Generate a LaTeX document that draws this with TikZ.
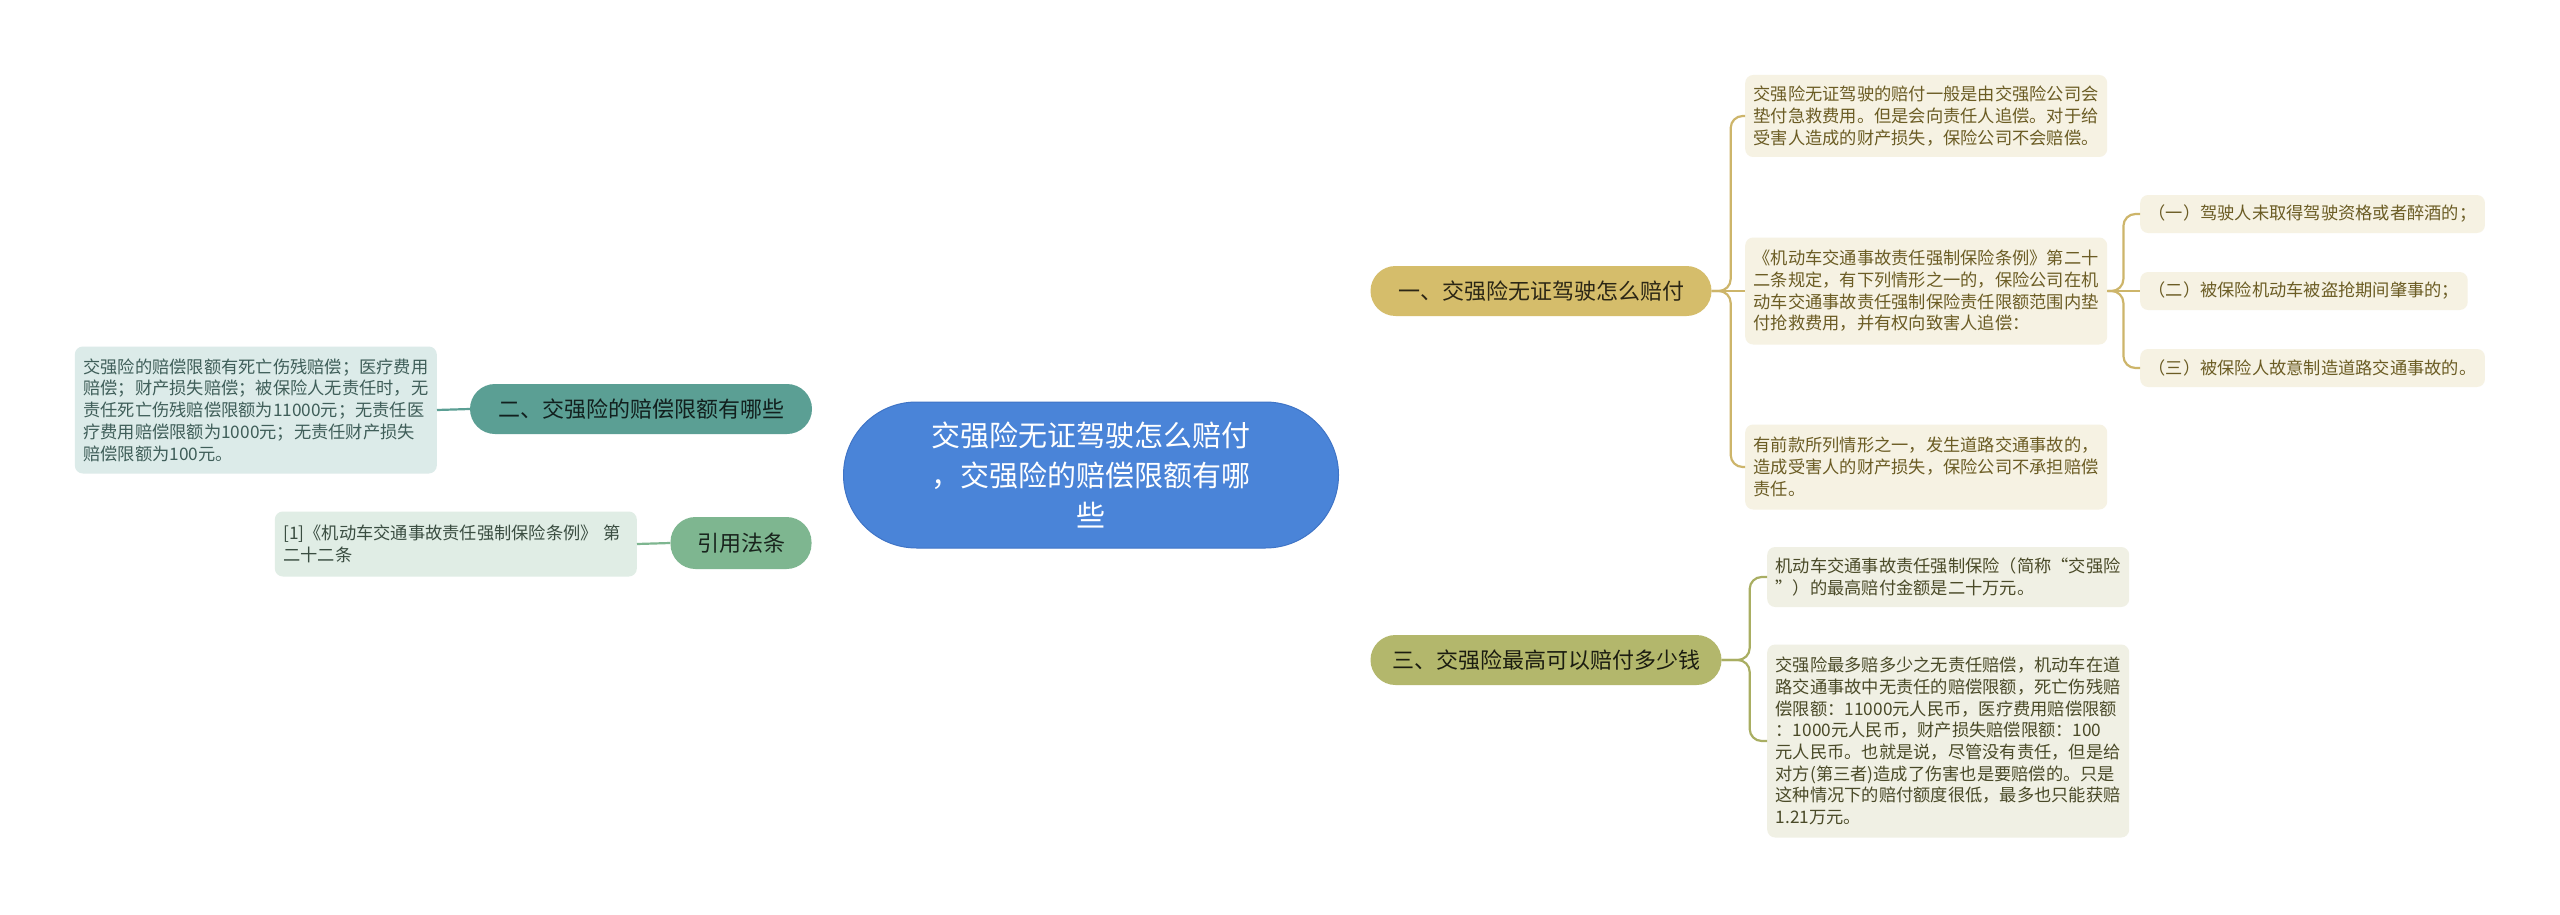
\documentclass[tikz,border=0pt]{standalone}
\usepackage{fontspec}
\setmainfont{Noto Sans CJK SC}
\usepackage{tikz}
\usetikzlibrary{backgrounds}

\definecolor{rootfill}{HTML}{4A84D8}
\definecolor{rootdraw}{HTML}{3F74C6}
\definecolor{goldfill}{HTML}{D5BD6B}
\definecolor{goldline}{HTML}{CDB56A}
\definecolor{goldleaf}{HTML}{F6F2E3}
\definecolor{goldtext}{HTML}{6B5C24}
\definecolor{olivefill}{HTML}{B3B76C}
\definecolor{oliveline}{HTML}{A9AE62}
\definecolor{oliveleaf}{HTML}{F0F0E4}
\definecolor{olivetext}{HTML}{4A4A28}
\definecolor{tealfill}{HTML}{5B9F94}
\definecolor{tealleaf}{HTML}{DCEBE9}
\definecolor{tealtext}{HTML}{3F5E59}
\definecolor{greenfill}{HTML}{7EB690}
\definecolor{greenleaf}{HTML}{E0EDE5}
\definecolor{greentext}{HTML}{3A4D41}

\newcommand{\leaffont}{\fontsize{17.25}{21.7}\selectfont}
\newcommand{\branchfont}{\fontsize{22}{26}\selectfont}
\newcommand{\rootfont}{\fontsize{29}{40}\selectfont}

\begin{document}
\begin{tikzpicture}[x=1pt, y=-1pt,
  rootbox/.style={rectangle, fill=rootfill, draw=rootdraw, line width=1pt, rounded corners=73pt,
    minimum width=495pt, minimum height=146pt, text=white, align=center, font=\rootfont},
  branchbox/.style={rectangle, rounded corners=25pt, minimum height=50pt, inner sep=0pt, font=\branchfont},
  leafbox/.style={rectangle, rounded corners=8pt, text width=345pt, inner xsep=8.5pt, inner ysep=0pt,
    align=left, font=\leaffont},
  subbox/.style={rectangle, rounded corners=8pt, minimum height=38pt, inner xsep=8.5pt, inner ysep=0pt,
    font=\leaffont},
  link/.style={line width=2.2pt, rounded corners=12pt}
]
\fill[white] (0,0) rectangle (2560,915);
\useasboundingbox (0,0) rectangle (2560,915);

% centre
\node[rootbox] (root) at (1091,475) {交强险无证驾驶怎么赔付\\，交强险的赔偿限额有哪\\些};

% branches
\node[branchbox, fill=goldfill, text=black!80!goldfill, minimum width=341pt] (noLicence) at (1541,291) {一、交强险无证驾驶怎么赔付};
\node[branchbox, fill=olivefill, text=black!85!olivefill, minimum width=351pt] (maxPay) at (1546,660) {三、交强险最高可以赔付多少钱};
\node[branchbox, fill=tealfill, text=black!80!tealfill, minimum width=342pt] (limits) at (641,409) {二、交强险的赔偿限额有哪些};
\node[branchbox, fill=greenfill, text=black!80!greenfill, minimum width=141pt, minimum height=52pt] (cite) at (741,543) {引用法条};

% leaves of branch one
\node[leafbox, fill=goldleaf, text=goldtext, minimum height=82pt, anchor=west] (advance) at (1745,116) {交强险无证驾驶的赔付一般是由交强险公司会\\
垫付急救费用。但是会向责任人追偿。对于给\\
受害人造成的财产损失，保险公司不会赔偿。};
\node[leafbox, fill=goldleaf, text=goldtext, minimum height=107pt, anchor=west] (rule) at (1745,291) {《机动车交通事故责任强制保险条例》第二十\\
二条规定，有下列情形之一的，保险公司在机\\
动车交通事故责任强制保险责任限额范围内垫\\
付抢救费用，并有权向致害人追偿：};
\node[leafbox, fill=goldleaf, text=goldtext, minimum height=85pt, anchor=west] (property) at (1745,467) {有前款所列情形之一，发生道路交通事故的，\\
造成受害人的财产损失，保险公司不承担赔偿\\
责任。};

\node[subbox, fill=goldleaf, text=goldtext, anchor=west] (caseOne) at (2140,214) {（一）驾驶人未取得驾驶资格或者醉酒的；};
\node[subbox, fill=goldleaf, text=goldtext, anchor=west] (caseTwo) at (2140,291) {（二）被保险机动车被盗抢期间肇事的；};
\node[subbox, fill=goldleaf, text=goldtext, anchor=west] (caseThree) at (2140,368) {（三）被保险人故意制造道路交通事故的。};

% leaves of branch three
\node[leafbox, fill=oliveleaf, text=olivetext, minimum height=60pt, anchor=west] (maxSum) at (1767,577) {机动车交通事故责任强制保险（简称“交强险\\
”）的最高赔付金额是二十万元。};
\node[leafbox, fill=oliveleaf, text=olivetext, minimum height=193pt, anchor=west] (noFault) at (1767,741) {交强险最多赔多少之无责任赔偿，机动车在道\\
路交通事故中无责任的赔偿限额，死亡伤残赔\\
偿限额：11000元人民币，医疗费用赔偿限额\\
：1000元人民币，财产损失赔偿限额：100\\
元人民币。也就是说，尽管没有责任，但是给\\
对方(第三者)造成了伤害也是要赔偿的。只是\\
这种情况下的赔付额度很低，最多也只能获赔\\
1.21万元。};

% left leaves
\node[leafbox, fill=tealleaf, text=tealtext, minimum height=127pt, anchor=east] (limitText) at (437,410) {交强险的赔偿限额有死亡伤残赔偿；医疗费用\\
赔偿；财产损失赔偿；被保险人无责任时，无\\
责任死亡伤残赔偿限额为11000元；无责任医\\
疗费用赔偿限额为1000元；无责任财产损失\\
赔偿限额为100元。};
\node[leafbox, fill=greenleaf, text=greentext, minimum height=65pt, anchor=east] (citeText) at (637,544) {[1]《机动车交通事故责任强制保险条例》 第\\
二十二条};

% connectors
\coordinate (rootA) at (1105,430);
\coordinate (rootB) at (1105,520);
\coordinate (rootC) at (905,412);
\coordinate (rootD) at (905,540);
\begin{scope}[on background layer]
\draw[goldline, line width=2.6pt] (rootA) .. controls (1105,335) and (1220,291) .. (noLicence.west);
\draw[oliveline, line width=2.6pt] (rootB) .. controls (1105,620) and (1220,660) .. (maxPay.west);
\draw[tealfill, line width=2.6pt] (limits.east) .. controls (850,409) and (870,411) .. (rootC);
\draw[greenfill, line width=2.6pt] (cite.east) .. controls (850,543) and (870,541) .. (rootD);
\end{scope}

\draw[link, goldline] (noLicence.east) -- ++(19,0) |- (advance.west);
\draw[link, goldline] (noLicence.east) -- (rule.west);
\draw[link, goldline] (noLicence.east) -- ++(19,0) |- (property.west);
\draw[link, goldline] (rule.east) -- ++(16,0) |- (caseOne.west);
\draw[link, goldline] (rule.east) -- (caseTwo.west);
\draw[link, goldline] (rule.east) -- ++(16,0) |- (caseThree.west);
\draw[link, oliveline] (maxPay.east) -- ++(28,0) |- (maxSum.west);
\draw[link, oliveline] (maxPay.east) -- ++(28,0) |- (noFault.west);
\draw[link, tealfill] (limitText.east) -- (limits.west);
\draw[link, greenfill] (citeText.east) -- (cite.west);
\end{tikzpicture}
\end{document}
